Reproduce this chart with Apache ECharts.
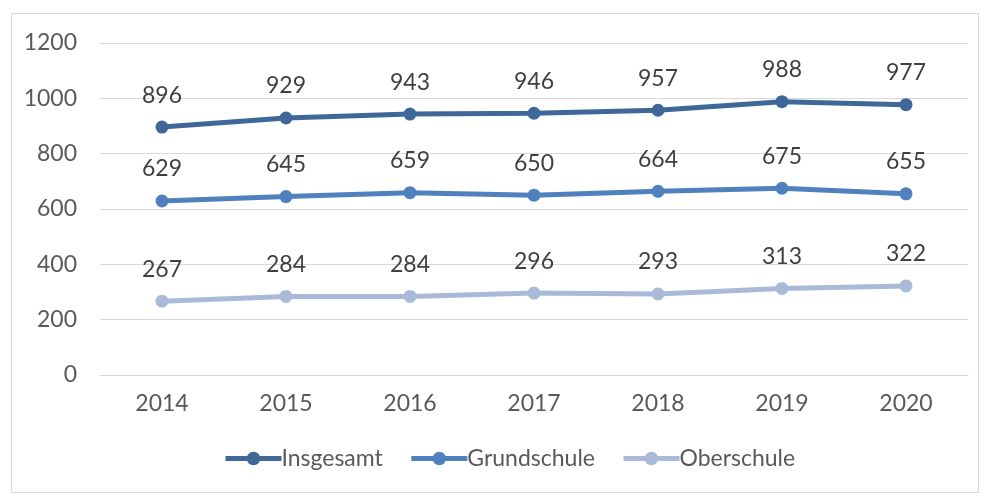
<!DOCTYPE html>
<html>
<head>
<meta charset="utf-8">
<script src="https://cdn.jsdelivr.net/npm/echarts@6/dist/echarts.min.js"></script>
<style>
  html, body { margin: 0; padding: 0; background: #fff; }
  #frame { position: absolute; left: 11px; top: 13px; width: 966px; height: 478px; border: 1px solid #d9d9d9; }
  #main { position: absolute; left: 0; top: 0; width: 983px; height: 497px; }
</style>
</head>
<body>
<div id="frame"></div>
<div id="main"></div>
<script>
  // Kategorien und Werte
  var years = ['2014', '2015', '2016', '2017', '2018', '2019', '2020'];
  var insgesamt = [896, 929, 943, 946, 957, 988, 977];
  var grundschule = [629, 645, 659, 650, 664, 675, 655];
  var oberschule = [267, 284, 284, 296, 293, 313, 322];
  var seriesNames = ['Insgesamt', 'Grundschule', 'Oberschule'];
  var colors = ['#3f6899', '#4e81bd', '#a9bad8'];

  var myChart = echarts.init(document.getElementById('main'));
  var font = 'Lato, "Open Sans", "Noto Sans", sans-serif';

  function makeSeries(name, data, color) {
    return {
      name: name,
      type: 'line',
      data: data,
      symbol: 'circle',
      symbolSize: 13,
      lineStyle: { width: 5, color: color },
      itemStyle: { color: color },
      label: {
        show: true,
        position: 'top',
        distance: 14,
        color: '#404040',
        fontSize: 23,
        fontFamily: font
      }
    };
  }

  var option = {
    animation: false,
    color: colors,
    textStyle: { fontFamily: font },
    grid: { left: 100, right: 15, top: 43, bottom: 122 },
    legend: {
      bottom: 22,
      left: 218,
      itemWidth: 56,
      itemHeight: 17,
      itemGap: 26,
      data: seriesNames,
      lineStyle: { width: 5 },
      textStyle: { color: '#595959', fontSize: 23, fontFamily: font, padding: [0, 0, 0, -5] }
    },
    xAxis: {
      type: 'category',
      data: years,
      axisLine: { lineStyle: { color: '#d9d9d9', width: 1 } },
      axisTick: { show: false },
      axisLabel: { color: '#595959', fontSize: 23, margin: 17, fontFamily: font }
    },
    yAxis: {
      type: 'value',
      min: 0,
      max: 1200,
      interval: 200,
      axisLine: { show: false },
      axisTick: { show: false },
      axisLabel: {
        color: '#595959', fontSize: 23, margin: 23, fontFamily: font,
        formatter: function (v) { return String(v); }
      },
      splitLine: { lineStyle: { color: '#d9d9d9', width: 1 } }
    },
    series: [
      makeSeries(seriesNames[0], insgesamt, colors[0]),
      makeSeries(seriesNames[1], grundschule, colors[1]),
      makeSeries(seriesNames[2], oberschule, colors[2])
    ]
  };

  myChart.setOption(option);
</script>
</body>
</html>
